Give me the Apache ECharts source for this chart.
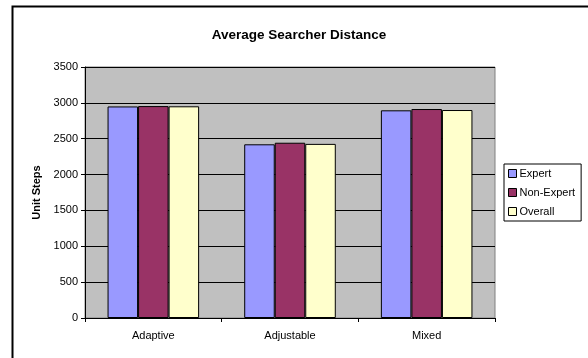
<!DOCTYPE html>
<html>
<head>
<meta charset="utf-8">
<script src="https://cdn.jsdelivr.net/npm/echarts@6/dist/echarts.min.js"></script>
<style>
  html, body { margin: 0; padding: 0; background: #fff; }
  #chart { width: 588px; height: 358px; }
</style>
</head>
<body>
<div id="chart"></div>
<script>
// Average distance walked by each searcher group, per interface type
const categories = ['Adaptive', 'Adjustable', 'Mixed'];
const expert = [2950, 2422, 2896];
const nonExpert = [2955, 2444, 2914];
const overall = [2952, 2428, 2900];
const yTicks = { min: 0, max: 3500, interval: 500 };

const FONT = 'Liberation Sans, Arial, sans-serif';
const chart = echarts.init(document.getElementById('chart'), null, { renderer: 'canvas' });

function barSeries(name, data, color) {
  return {
    name: name,
    type: 'bar',
    data: data,
    barGap: '0%',
    barCategoryGap: '33%',
    itemStyle: { color: color, borderColor: '#000', borderWidth: 1 }
  };
}

chart.setOption({
  animation: false,
  backgroundColor: '#fff',
  textStyle: { fontFamily: FONT },
  title: {
    text: 'Average Searcher Distance',
    left: 294, top: 23, textAlign: 'center',
    textStyle: { fontSize: 13.5, fontWeight: 'bold', color: '#000', fontFamily: FONT }
  },
  grid: {
    left: 85, right: 93, top: 67, bottom: 40,
    show: true, backgroundColor: '#C0C0C0', borderColor: '#808080', borderWidth: 1
  },
  legend: {
    orient: 'vertical',
    left: 504, top: 164,
    padding: [4, 6, 4, 4],
    itemGap: 8,
    itemWidth: 8, itemHeight: 8,
    icon: 'rect',
    borderColor: '#000', borderWidth: 1,
    backgroundColor: '#fff',
    itemStyle: { borderColor: '#000', borderWidth: 1 },
    textStyle: { fontSize: 11, color: '#000', fontFamily: FONT, lineHeight: 11, padding: [0, 0, 0, -2] },
    data: ['Expert', 'Non-Expert', 'Overall']
  },
  xAxis: {
    type: 'category',
    data: categories,
    axisLine: { lineStyle: { color: '#000', width: 1 } },
    axisTick: { show: true, length: 4, lineStyle: { color: '#000' } },
    axisLabel: { fontSize: 11, color: '#000', margin: 12, fontFamily: FONT }
  },
  yAxis: {
    type: 'value',
    min: yTicks.min, max: yTicks.max, interval: yTicks.interval,
    name: 'Unit Steps',
    nameLocation: 'middle',
    nameGap: 41,
    nameTextStyle: { fontSize: 11, fontWeight: 'bold', color: '#000', fontFamily: FONT },
    axisLine: { show: true, lineStyle: { color: '#000', width: 1 } },
    axisTick: { show: true, length: 4, lineStyle: { color: '#000' } },
    axisLabel: { fontSize: 11, color: '#000', margin: 7, fontFamily: FONT, formatter: v => String(v) },
    splitLine: { show: true, lineStyle: { color: '#000', width: 1 } }
  },
  series: [
    barSeries('Expert', expert, '#9999FF'),
    barSeries('Non-Expert', nonExpert, '#993366'),
    barSeries('Overall', overall, '#FFFFCC')
  ],
  graphic: [
    {
      type: 'polyline',
      silent: true,
      shape: { points: [[12.5, 358], [12.5, 6.5], [588, 6.5]] },
      style: { stroke: '#000', lineWidth: 2, fill: null }
    }
  ]
});
</script>
</body>
</html>
